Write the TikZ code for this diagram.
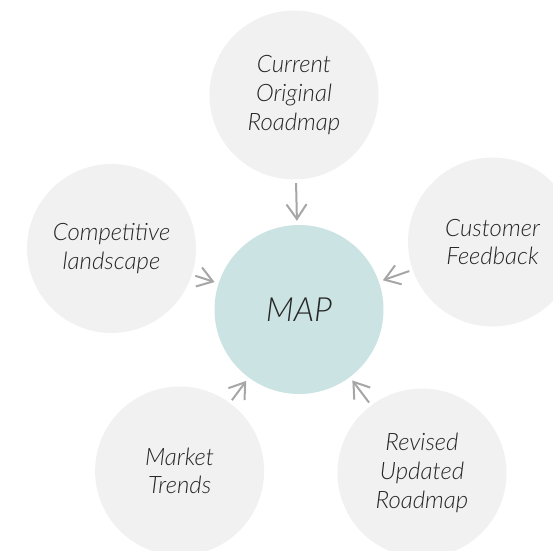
\documentclass[tikz,border=0pt]{standalone}
\usepackage{fontspec}
\setmainfont{Lato}[ItalicFont={Lato Light Italic}]
\usetikzlibrary{arrows.meta}
\definecolor{bubblegray}{HTML}{F1F1F1}
\definecolor{mapteal}{HTML}{CBE3E2}
\definecolor{arrowgray}{HTML}{A6A6A6}
\definecolor{textgray}{HTML}{262626}
\begin{document}
\begin{tikzpicture}[x=0.75pt, y=-0.75pt,
  bubble/.style={circle, fill=bubblegray, minimum size=126.75pt, inner sep=0pt,
    align=center, text=textgray, font=\itshape\fontsize{18}{21.5}\selectfont},
  hub/.style={bubble, fill=mapteal, font=\itshape\fontsize{25}{30}\selectfont},
  feed/.style={-{Straight Barb[length=11pt, width=15pt]}, arrowgray, line width=1.5pt,
    shorten <=2.5pt, shorten >=3pt}]
\useasboundingbox (0,0) rectangle (553,550);
% centre
\node[hub] (map) at (299,309.5) {MAP};
% inputs
\node[bubble] (roadmap) at (294,95) {Current\\Original\\Roadmap};
\node[bubble] (customer) at (492.5,242) {Customer\\Feedback};
\node[bubble] (competitive) at (111.5,248.5) {Competitive\\landscape};
\node[bubble] (market) at (179.6,471) {Market\\Trends};
\node[bubble] (revised) at (422,473) {Revised\\Updated\\Roadmap};
% arrows into the centre
\foreach \src in {roadmap, customer, competitive, market, revised}
  \draw[feed] (\src) -- (map);
\end{tikzpicture}
\end{document}
